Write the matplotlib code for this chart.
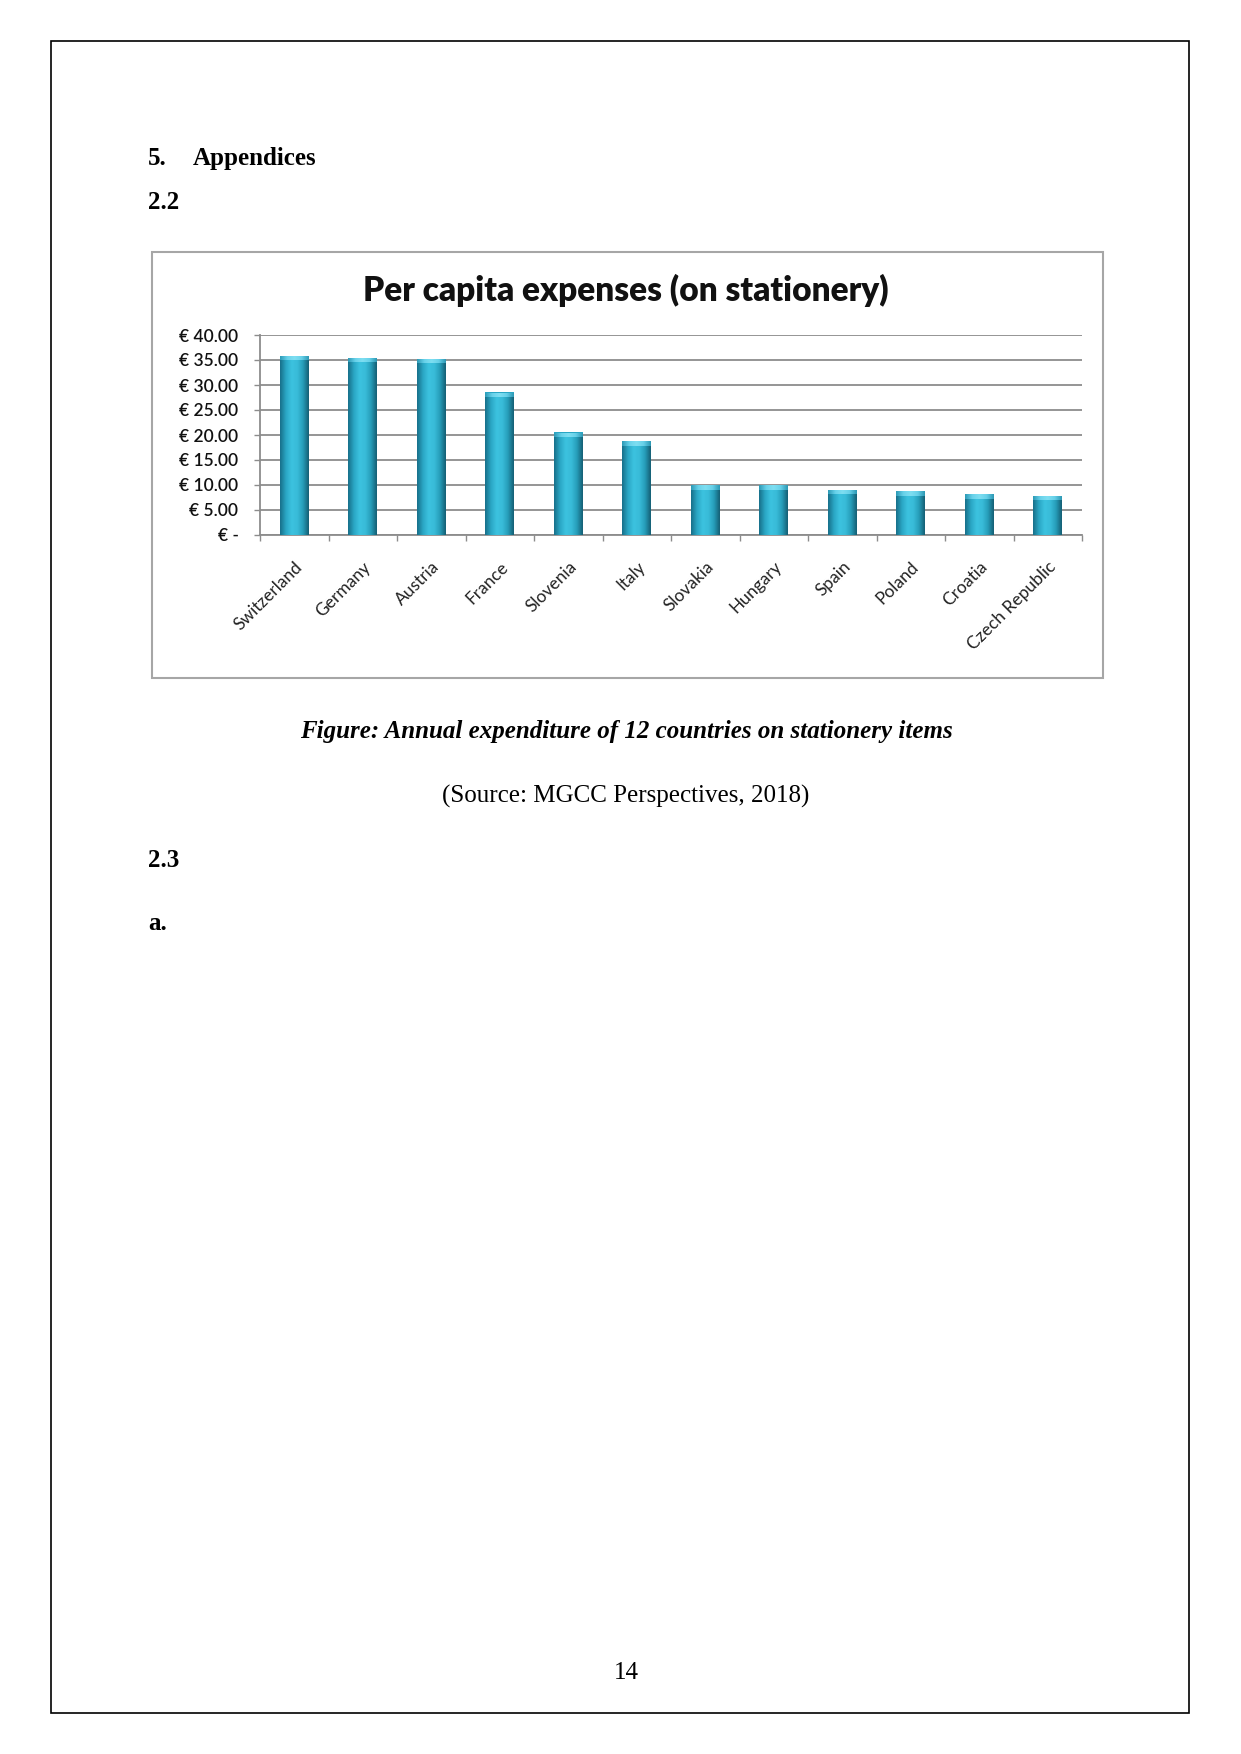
import numpy as np
import matplotlib
matplotlib.use("Agg")
import matplotlib.pyplot as plt
from matplotlib.patches import Rectangle
from matplotlib.colors import LinearSegmentedColormap

# ---- data ----
countries = ["Switzerland", "Germany", "Austria", "France", "Slovenia", "Italy",
             "Slovakia", "Hungary", "Spain", "Poland", "Croatia", "Czech Republic"]
expenses = [35.9, 35.5, 35.3, 28.5, 20.5, 18.7, 9.9, 9.9, 9.0, 8.7, 8.1, 7.8]
yticks = [0, 5, 10, 15, 20, 25, 30, 35, 40]
ytick_labels = ["€ -", "€ 5.00", "€ 10.00", "€ 15.00", "€ 20.00", "€ 25.00",
                "€ 30.00", "€ 35.00", "€ 40.00"]

W, H = 1241, 1754
DPI = 100
fig = plt.figure(figsize=(W / DPI, H / DPI), dpi=DPI)
fig.patch.set_facecolor("white")


def fx(x):
    return x / W


def fy(y):
    return 1 - y / H


serif = "Liberation Serif"
FS = 18

# page border
fig.add_artist(Rectangle((fx(51), fy(1713)), fx(1189) - fx(51), fy(41) - fy(1713),
                         transform=fig.transFigure, fill=False, edgecolor="black",
                         linewidth=1.2))

# page texts
fig.text(fx(148), fy(165), "5.", family=serif, weight="bold", fontsize=FS, va="baseline")
fig.text(fx(193), fy(165), "Appendices", family=serif, weight="bold", fontsize=FS, va="baseline")
fig.text(fx(148), fy(209), "2.2", family=serif, weight="bold", fontsize=FS, va="baseline")
fig.text(fx(626), fy(738), "Figure: Annual expenditure of 12 countries on stationery items",
         family=serif, weight="bold", style="italic", fontsize=FS, ha="center", va="baseline")
fig.text(fx(626), fy(803), "(Source: MGCC Perspectives, 2018)", family=serif,
         fontsize=FS, ha="center", va="baseline")
fig.text(fx(148), fy(867), "2.3", family=serif, weight="bold", fontsize=FS, va="baseline")
fig.text(fx(148), fy(930), "a.", family=serif, weight="bold", fontsize=FS, va="baseline")
fig.text(fx(626), fy(1679), "14", family=serif, fontsize=FS, ha="center", va="baseline")

# chart frame
fig.add_artist(Rectangle((fx(152), fy(678)), fx(1103) - fx(152), fy(252) - fy(678),
                         transform=fig.transFigure, fill=False, edgecolor="#a6a6a6",
                         linewidth=1.5))

chart_font = "Lato"
fig.text(fx(626), fy(301), "Per capita expenses (on stationery)", family=chart_font,
         weight="heavy", fontsize=24, ha="center", va="baseline", color="#111111")

# axes
ax = fig.add_axes([fx(260), fy(535), fx(1082) - fx(260), fy(335) - fy(535)])
ax.set_facecolor("none")
x = np.arange(len(countries))
bars = ax.bar(x, expenses, width=0.42, color="#2aa6c4", edgecolor="none", zorder=3)
ax.set_xlim(-0.5, len(countries) - 0.5)
ax.set_ylim(0, 40)

body_cmap = LinearSegmentedColormap.from_list(
    "body", ["#17708a", "#2aa6c4", "#3cc2df", "#39bcd9", "#269db9", "#155f75"])
cap_cmap = LinearSegmentedColormap.from_list(
    "cap", ["#2f9fbc", "#6fd6ee", "#86e2f4", "#6fd6ee", "#2f9fbc"])
grad = np.linspace(0, 1, 64).reshape(1, -1)
for b in bars:
    x0, w, h = b.get_x(), b.get_width(), b.get_height()
    im = ax.imshow(grad, extent=[x0, x0 + w, 0, h], cmap=body_cmap, aspect="auto",
                   zorder=4, interpolation="bicubic")
    im.set_clip_path(b)
    cap = ax.imshow(grad, extent=[x0, x0 + w, h - 0.9, h], cmap=cap_cmap, aspect="auto",
                    zorder=5, interpolation="bicubic", alpha=0.9)
    cap.set_clip_path(b)

ax.set_yticks(yticks)
ax.set_yticklabels(ytick_labels, family=chart_font, fontsize=12.5, weight="semibold",
                   color="#111111")
ax.yaxis.grid(True, color="#8c8c8c", linewidth=1.3, zorder=1)
ax.set_axisbelow(True)
ax.tick_params(axis="y", length=4.5, width=1.0, color="#8c8c8c", pad=11, direction="out")

ax.set_xticks(x)
ax.set_xticklabels(countries, family=chart_font, fontsize=12.5, rotation=45,
                   ha="right", va="top", rotation_mode="anchor", color="#222222")
ax.tick_params(axis="x", which="major", length=0, pad=17)
ax.set_xticks(np.arange(-0.5, len(countries), 1.0), minor=True)
ax.tick_params(axis="x", which="minor", length=4.5, width=1.0, color="#8c8c8c", direction="out")

for s in ["top", "right"]:
    ax.spines[s].set_visible(False)
for s in ["left", "bottom"]:
    ax.spines[s].set_color("#8c8c8c")
    ax.spines[s].set_linewidth(1.3)

fig.savefig("out.png", dpi=DPI, facecolor="white")
